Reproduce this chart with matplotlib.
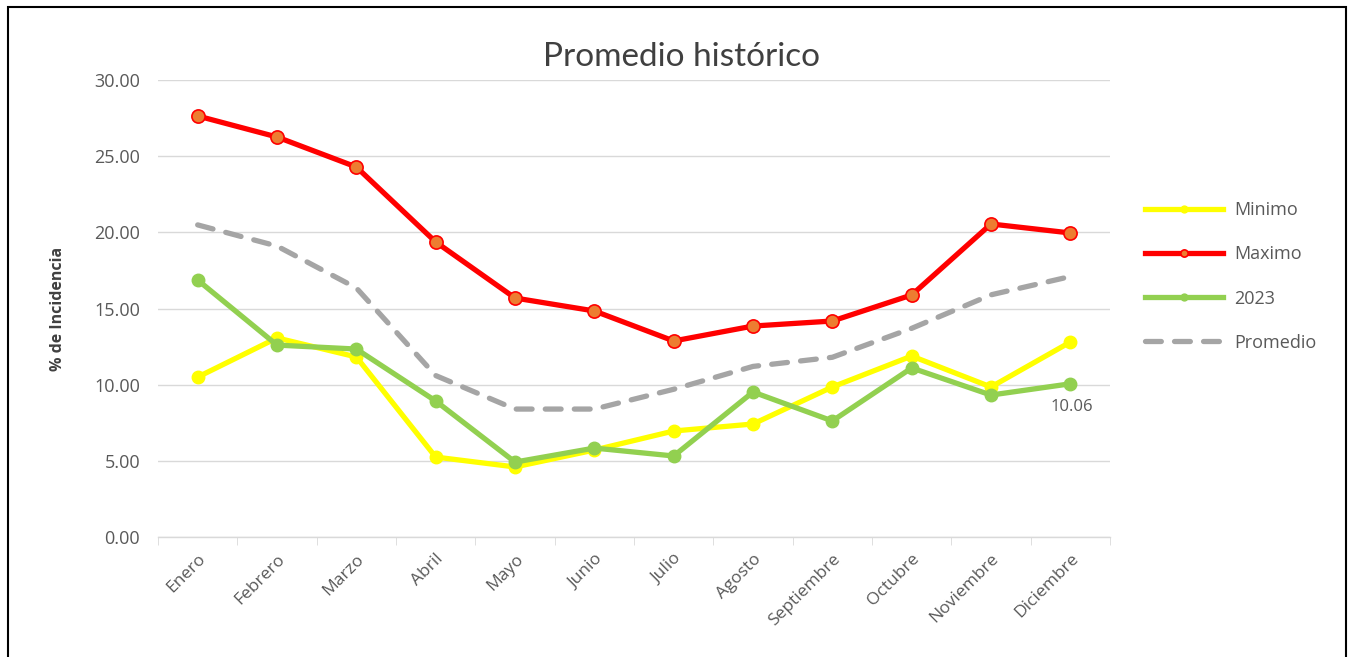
import matplotlib.pyplot as plt
import matplotlib.patches as patches
import numpy as np

meses = ['Enero', 'Febrero', 'Marzo', 'Abril', 'Mayo', 'Junio', 'Julio',
         'Agosto', 'Septiembre', 'Octubre', 'Noviembre', 'Diciembre']
minimo = [10.50, 13.07, 11.82, 5.25, 4.60, 5.71, 6.96, 7.42, 9.85, 11.88, 9.85, 12.80]
maximo = [27.64, 26.26, 24.29, 19.37, 15.69, 14.84, 12.87, 13.85, 14.18, 15.89, 20.55, 19.96]
anio_2023 = [16.87, 12.60, 12.34, 8.93, 4.92, 5.84, 5.32, 9.52, 7.62, 11.10, 9.32, 10.06]
promedio = [20.49, 19.10, 16.35, 10.60, 8.40, 8.40, 9.70, 11.20, 11.80, 13.70, 15.90, 17.10]

gris = '#595959'
plt.rcParams['font.family'] = ['Open Sans', 'DejaVu Sans']

fig = plt.figure(figsize=(13.54, 6.57), dpi=100)
ax = fig.add_axes([0.1167, 0.1826, 0.7031, 0.6956])

x = np.arange(len(meses))
ax.plot(x, minimo, color='#FFFF00', lw=3.8, marker='o', ms=9,
        mfc='#FFFF00', mec='#FFFF00', label='Minimo', zorder=3)
ax.plot(x, maximo, color='#FF0000', lw=3.8, marker='o', ms=9.5,
        mfc='#ED7D31', mec='#FF0000', mew=1.2, label='Maximo', zorder=4)
ax.plot(x, anio_2023, color='#92D050', lw=3.8, marker='o', ms=9,
        mfc='#92D050', mec='#92D050', label='2023', zorder=5)
ax.plot(x, promedio, color='#A5A5A5', lw=3.8, ls=(0, (3, 2.5)),
        dash_capstyle='round', label='Promedio', zorder=2)

ax.annotate(f'{anio_2023[-1]:.2f}', (x[-1], anio_2023[-1]), xytext=(1, -17),
            textcoords='offset points', ha='center', va='center',
            color=gris, fontsize=12)

ax.set_xlim(-0.5, 11.5)
ax.set_ylim(0, 30)
ax.set_yticks(np.arange(0, 31, 5))
ax.set_yticklabels([f'{v:.2f}' for v in np.arange(0, 31, 5)])
ax.grid(axis='y', color='#D9D9D9', lw=1)
ax.set_axisbelow(True)
for s in ['top', 'right', 'left']:
    ax.spines[s].set_visible(False)
ax.spines['bottom'].set_color('#D9D9D9')
ax.spines['bottom'].set_linewidth(1)

ax.set_xticks(x)
ax.set_xticklabels(meses, rotation=45, ha='right', rotation_mode='anchor',
                   color=gris, fontsize=12.5)
ax.set_xticks(np.arange(-0.5, 12, 1), minor=True)
ax.tick_params(axis='x', which='major', length=0, pad=10)
ax.tick_params(axis='x', which='minor', length=6, color='#D9D9D9')
ax.tick_params(axis='y', length=0, labelcolor=gris, labelsize=13, pad=13)

ax.set_ylabel('% de Incidencia', fontweight='bold', color='#404040',
              fontsize=11.5, labelpad=20)
fig.text(0.503, 0.913, 'Promedio histórico', fontsize=24, color='#404040',
         family=['Lato', 'DejaVu Sans'], ha='center', va='center')

leg = ax.legend(loc='center left', bbox_to_anchor=(1.02, 0.57), frameon=False,
                fontsize=13, handlelength=4.3, labelspacing=1.45,
                handletextpad=0.6, markerscale=0.55)
for t in leg.get_texts():
    t.set_color(gris)

fig.patches.append(patches.Rectangle((0.006, -0.01), 0.988, 1.0, transform=fig.transFigure,
                                     fill=False, edgecolor='black', lw=1.5))

fig.savefig('out.png', dpi=100)
